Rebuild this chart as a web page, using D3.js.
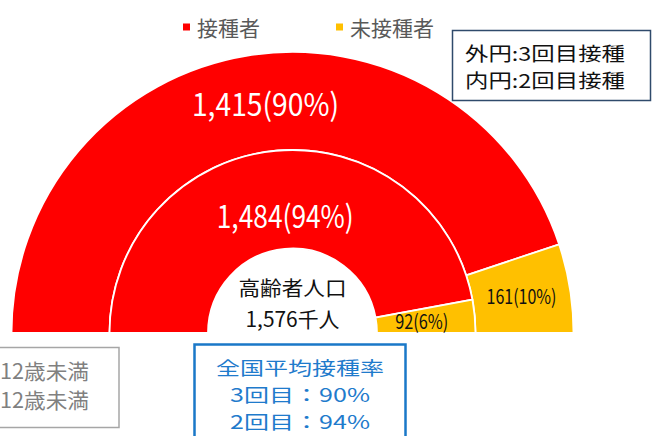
<!DOCTYPE html>
<html lang="ja">
<head>
    <meta charset="UTF-8">
    <script src="https://d3js.org/d3.v7.min.js" charset="utf-8"></script>
    <title>高齢者 接種状況</title>
    <style>
        body { margin: 0; background: white; }
        svg { display: block; font-family: "Noto Sans CJK JP", "Noto Sans", sans-serif; }
    </style>
</head>
<body>
    <div class="chart"></div>

    <script>
        const svgWidth = 657;
        const svgHeight = 436;

        // categories and values (thousand people)
        const categories = ["接種者", "未接種者"];
        const outerValues = [1415, 161];   // 3回目
        const innerValues = [1484, 92];    // 2回目
        const totalPop = 1576;
        const centerLines = ["高齢者人口", "1,576千人"];
        const ringNotes = ["外円:3回目接種", "内円:2回目接種"];
        const nationalLines = ["全国平均接種率", "3回目：90%", "2回目：94%"];
        const cutNotes = ["12歳未満", "12歳未満"];

        const colors = d3.scaleOrdinal().domain(categories).range(["#ff0000", "#ffc000"]);

        const svg = d3.select(".chart").append("svg")
            .attr("width", svgWidth)
            .attr("height", svgHeight);

        // half donut geometry
        const cx = 292.5, cy = 333;
        const rOuter = 281, rMid = 183, rInner = 84.5;

        const pie = d3.pie()
            .sort(null)
            .startAngle(-Math.PI / 2)
            .endAngle(Math.PI / 2);

        const outerArc = d3.arc().innerRadius(rMid).outerRadius(rOuter);
        const innerArc = d3.arc().innerRadius(rInner).outerRadius(rMid);

        const g = svg.append("g").attr("transform", `translate(${cx},${cy})`);

        const fmt = d3.format(",");
        const label = v => `${fmt(v)}(${Math.round(v / totalPop * 100)}%)`;

        // label look per ring / slice
        const labelStyle = {
            outer: [{ size: 31, len: 147, fill: "white", dx: 10, dy: -1 }, { size: 20, len: 70, fill: "#111", dx: 0, dy: 0 }],
            inner: [{ size: 31, len: 137, fill: "white", dx: 5, dy: 15 }, { size: 20, len: 53, fill: "#111", dx: -4, dy: 0 }]
        };

        const rings = [
            { key: "outer", arc: outerArc, values: outerValues },
            { key: "inner", arc: innerArc, values: innerValues }
        ];

        rings.forEach(ring => {
            const slices = pie(ring.values);
            g.append("g").selectAll("path")
                .data(slices)
                .enter()
                .append("path")
                .attr("d", ring.arc)
                .attr("fill", (d, i) => colors(categories[i]))
                .attr("stroke", "white")
                .attr("stroke-width", 1.8);

            g.append("g").selectAll("text")
                .data(slices)
                .enter()
                .append("text")
                .attr("x", (d, i) => ring.arc.centroid(d)[0] + labelStyle[ring.key][i].dx)
                .attr("y", (d, i) => ring.arc.centroid(d)[1] + labelStyle[ring.key][i].dy)
                .attr("text-anchor", "middle")
                .attr("dominant-baseline", "central")
                .attr("font-size", (d, i) => labelStyle[ring.key][i].size)
                .attr("textLength", (d, i) => labelStyle[ring.key][i].len)
                .attr("lengthAdjust", "spacingAndGlyphs")
                .attr("fill", (d, i) => labelStyle[ring.key][i].fill)
                .text(d => label(d.value));
        });

        // centre text
        g.append("g").selectAll("text")
            .data(centerLines)
            .enter()
            .append("text")
            .attr("x", 0)
            .attr("y", (d, i) => -46 + i * 31)
            .attr("text-anchor", "middle")
            .attr("dominant-baseline", "central")
            .attr("font-size", (d, i) => [20, 21][i])
            .attr("textLength", (d, i) => [108, 94][i])
            .attr("lengthAdjust", "spacingAndGlyphs")
            .attr("fill", "#111")
            .text(d => d);

        // legend
        const legendX = [183, 336];
        const legend = svg.append("g").selectAll("g")
            .data(categories)
            .enter()
            .append("g")
            .attr("transform", (d, i) => `translate(${legendX[i]},27)`);
        legend.append("rect")
            .attr("x", 0).attr("y", -3.5)
            .attr("width", 7).attr("height", 7)
            .attr("fill", d => colors(d));
        legend.append("text")
            .attr("x", 14)
            .attr("dominant-baseline", "central")
            .attr("font-size", 21)
            .attr("fill", "#595959")
            .text(d => d);

        // ring note box (top right)
        svg.append("rect")
            .attr("x", 452.5).attr("y", 30.5)
            .attr("width", 198).attr("height", 70)
            .attr("fill", "white")
            .attr("stroke", "#2f4a6b")
            .attr("stroke-width", 1.5);
        svg.append("g").selectAll("text")
            .data(ringNotes)
            .enter()
            .append("text")
            .attr("x", 465)
            .attr("y", (d, i) => 52 + i * 27)
            .attr("dominant-baseline", "central")
            .attr("font-size", 19)
            .attr("textLength", 160)
            .attr("lengthAdjust", "spacingAndGlyphs")
            .attr("fill", "#111")
            .text(d => d);

        // cut-off note box (bottom left)
        svg.append("rect")
            .attr("x", -10).attr("y", 347.5)
            .attr("width", 129).attr("height", 80)
            .attr("fill", "white")
            .attr("stroke", "#a6a6a6")
            .attr("stroke-width", 1.5);
        svg.append("g").selectAll("text")
            .data(cutNotes)
            .enter()
            .append("text")
            .attr("x", 0)
            .attr("y", (d, i) => 370 + i * 29)
            .attr("dominant-baseline", "central")
            .attr("font-size", 21)
            .attr("textLength", 89)
            .attr("lengthAdjust", "spacingAndGlyphs")
            .attr("fill", "#808080")
            .text(d => d);

        // national average box
        svg.append("rect")
            .attr("x", 194.5).attr("y", 344.5)
            .attr("width", 211).attr("height", 110)
            .attr("fill", "white")
            .attr("stroke", "#1a78c8")
            .attr("stroke-width", 2.5);
        svg.append("g").selectAll("text")
            .data(nationalLines)
            .enter()
            .append("text")
            .attr("x", 300)
            .attr("y", (d, i) => [367, 394, 421][i])
            .attr("text-anchor", "middle")
            .attr("dominant-baseline", "central")
            .attr("font-size", 18.5)
            .attr("textLength", (d, i) => [168, 140, 140][i])
            .attr("lengthAdjust", "spacingAndGlyphs")
            .attr("fill", "#1f7bcc")
            .text(d => d);
    </script>
</body>
</html>
